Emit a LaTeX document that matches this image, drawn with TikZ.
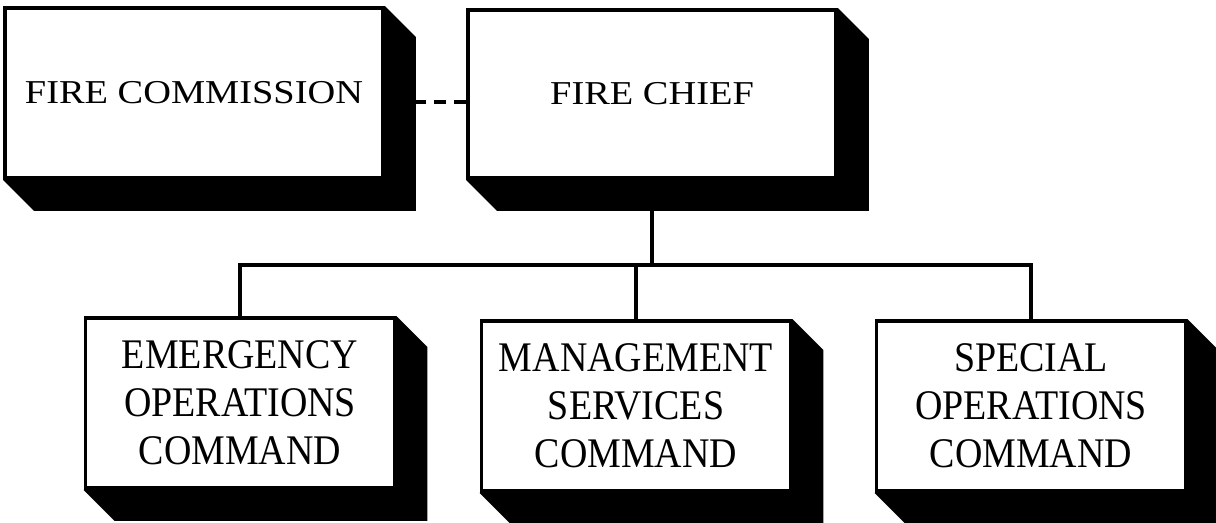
\documentclass[tikz,border=0pt]{standalone}
\usepackage{fontspec}
\setmainfont{Liberation Serif}
\newfontfamily\widefont[FakeStretch=1.15]{Liberation Serif}
\newfontfamily\narrowfont[FakeStretch=0.9]{Liberation Serif}
\usetikzlibrary{backgrounds}

\begin{document}
\begin{tikzpicture}[
                    x=0.02cm, y=-0.02cm,
                    office/.style={
                        rectangle,
                        draw=black,
                        fill=white,
                        line width=2.2pt,
                        inner sep=0pt,
                        align=center
                    },
                    toprow/.style={
                        office,
                        font=\widefont\fontsize{19}{25}\selectfont,
                        minimum height=3.4cm
                    },
                    bottomrow/.style={
                        office,
                        font=\narrowfont\fontsize{24}{27.2}\selectfont,
                        minimum width=6.18cm,
                        minimum height=3.4cm
                    },
                    link/.style={line width=2pt}
                ]
                \useasboundingbox (0,0) rectangle (1216,523);

                \node (COM) [toprow, minimum width=7.56cm] at (194,93) {FIRE COMMISSION};
                \node (CHF) [toprow, minimum width=7.36cm, minimum height=3.36cm] at (652,94) {FIRE CHIEF};
                \node (EOC) [bottomrow] at (240,403) {EMERGENCY\\OPERATIONS\\COMMAND};
                \node (MSC) [bottomrow] at (636,406) {MANAGEMENT\\SERVICES\\COMMAND};
                \node (SOC) [bottomrow] at (1031,406) {SPECIAL\\OPERATIONS\\COMMAND};

                \begin{scope}[on background layer]
                    \coordinate (bus) at (0,265);
                    \coordinate (tie) at (440,102);
                    \draw [link] (CHF.south) -- (CHF.south |- bus);
                    \draw [link] (EOC.north) |- (SOC.north |- bus) -- (SOC.north);
                    \draw [link] (MSC.north) -- (MSC.north |- bus);
                    \draw [link, dash pattern=on 6.8pt off 4.5pt] (CHF.west |- tie) -- (COM.east |- tie);

                    % solid black depth behind every box
                    \foreach \n in {COM,CHF,EOC,MSC,SOC}
                        \fill (\n.north east) -- ++(31,31) |- ([shift={(31,31)}]\n.south west) -- (\n.south west) -- cycle;
                \end{scope}
            \end{tikzpicture}
\end{document}
